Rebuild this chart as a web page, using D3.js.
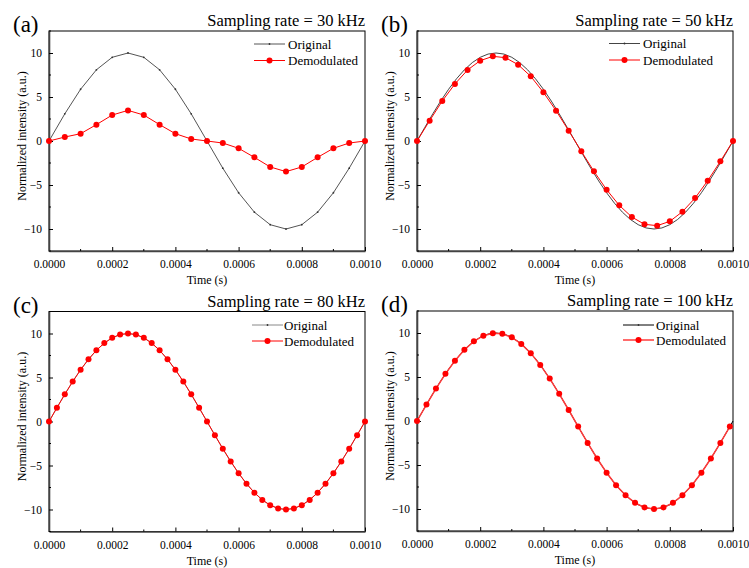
<!DOCTYPE html>
<html>
<head>
<meta charset="utf-8">
<script src="https://cdn.jsdelivr.net/npm/d3@7"></script>
<style>
  body { margin: 0; background: #fff; }
  svg { display: block; font-family: "Liberation Serif", "Times New Roman", serif; }
</style>
</head>
<body>
<div id="chart"></div>
<script>
// Values

// sample spacing (s) of each series
const stepOrigA = 0.00005;
const stepFine = 0.000025;
const stepB = 0.00004;
const stepC = 0.000025;
const stepD = 0.00003;

// (a) 30 kHz
const origA = [0, 3.09, 5.88, 8.09, 9.51, 10, 9.51, 8.09, 5.88, 3.09, 0,
  -3.09, -5.88, -8.09, -9.51, -10, -9.51, -8.09, -5.88, -3.09, 0];
const demodA = [0, 0.45, 0.83, 1.86, 2.95, 3.48, 2.95, 1.86, 0.83, 0.23, 0,
  -0.23, -0.83, -1.86, -2.95, -3.48, -2.95, -1.86, -0.83, -0.23, 0];

// original signal drawn in (b), (c), (d)
const origFine = [0, 1.56, 3.09, 4.54, 5.88, 7.07, 8.09, 8.91, 9.51, 9.88, 10,
  9.88, 9.51, 8.91, 8.09, 7.07, 5.88, 4.54, 3.09, 1.56, 0,
  -1.56, -3.09, -4.54, -5.88, -7.07, -8.09, -8.91, -9.51, -9.88, -10,
  -9.88, -9.51, -8.91, -8.09, -7.07, -5.88, -4.54, -3.09, -1.56, 0];

// (b) 50 kHz
const demodB = [0, 2.31, 4.55, 6.48, 8.07, 9.13, 9.62, 9.47, 8.67, 7.35, 5.53,
  3.45, 1.17, -1.17, -3.45, -5.53, -7.31, -8.64, -9.47, -9.62, -9.13,
  -8.03, -6.48, -4.51, -2.31, 0];

// (c) 80 kHz
const demodC = [0, 1.56, 3.09, 4.54, 5.88, 7.07, 8.09, 8.91, 9.51, 9.88, 10,
  9.88, 9.51, 8.91, 8.09, 7.07, 5.88, 4.54, 3.09, 1.56, 0,
  -1.56, -3.09, -4.54, -5.88, -7.07, -8.09, -8.91, -9.51, -9.88, -10,
  -9.88, -9.51, -8.91, -8.09, -7.07, -5.88, -4.54, -3.09, -1.56, 0];

// (d) 100 kHz
const demodD = [0, 1.87, 3.68, 5.36, 6.85, 8.09, 9.05, 9.69, 9.98, 9.92, 9.51,
  8.76, 7.71, 6.37, 4.82, 3.09, 1.25, -0.63, -2.49, -4.26, -5.88,
  -7.29, -8.44, -9.30, -9.82, -10, -9.82, -9.30, -8.44, -7.29, -5.88,
  -4.26, -2.49, -0.63];

const panelLabels = ['(a)', '(b)', '(c)', '(d)'];
const panelTitles = ['Sampling rate = 30 kHz', 'Sampling rate = 50 kHz',
  'Sampling rate = 80 kHz', 'Sampling rate = 100 kHz'];
const legendNames = ['Original', 'Demodulated'];
const xTicks = [0, 0.0002, 0.0004, 0.0006, 0.0008, 0.001];
const xMinor = [0.0001, 0.0003, 0.0005, 0.0007, 0.0009];
const yTicks = [-10, -5, 0, 5, 10];
const yMinor = [-12.5, -7.5, -2.5, 2.5, 7.5, 12.5];
const xDomain = [0, 0.001], yDomain = [-12.5, 12.5];

// Pair values with their times
const series = (vals, step) => vals.map((v, i) => [i * step, v]);

const panels = [
  {orig: series(origA, stepOrigA), demod: series(demodA, stepOrigA),
   ox: 0, oy: 0, origColor: '#555', origDots: true, red: '#ff0000', redW: 1,
   legLine: 111, legText: 77, legY: [13, 29.5]},
  {orig: series(origFine, stepFine), demod: series(demodB, stepB),
   ox: 368, oy: 0, origColor: '#444', origDots: false, red: '#ff0000', redW: 1,
   legLine: 124, legText: 90, legY: [12.5, 29]},
  {orig: series(origFine, stepFine), demod: series(demodC, stepC),
   ox: 0, oy: 280.5, origColor: '#888', origDots: false, red: '#ff0000', redW: 1,
   legLine: 113, legText: 81, legY: [13.5, 29.5]},
  {orig: series(origFine, stepFine), demod: series(demodD, stepD),
   ox: 368, oy: 280, origColor: '#000', origDots: false, red: '#ff3b3b', redW: 1.5,
   legLine: 110, legText: 77, legY: [14, 29]}
];

const W = 749, H = 568;
const plotLeft = 49, plotTop = 31, plotW = 316, plotH = 220;

const svg = d3.select('#chart').append('svg')
  .attr('width', W).attr('height', H);

const x = d3.scaleLinear().domain(xDomain).range([0, plotW]);
const y = d3.scaleLinear().domain(yDomain).range([plotH, 0]);
const line = d3.line().x(d => x(d[0])).y(d => y(d[1]));

panels.forEach((p, k) => {
  const g = svg.append('g')
    .attr('transform', `translate(${p.ox + plotLeft},${p.oy + plotTop})`);

  // frame
  g.append('rect')
    .attr('width', plotW).attr('height', plotH)
    .attr('fill', 'none').attr('stroke', '#000').attr('stroke-width', 1);

  // x axis, ticks pointing inward
  const gx = g.append('g').attr('transform', `translate(0,${plotH})`);
  gx.call(d3.axisBottom(x).tickValues(xTicks).tickSizeInner(-4).tickSizeOuter(0)
    .tickPadding(9).tickFormat(d => d.toFixed(4)));
  gx.append('g').selectAll('line').data(xMinor).join('line')
    .attr('x1', d => x(d)).attr('x2', d => x(d)).attr('y1', 0).attr('y2', -2)
    .attr('stroke', '#000');

  // y axis
  const gy = g.append('g');
  gy.call(d3.axisLeft(y).tickValues(yTicks).tickSizeInner(-4).tickSizeOuter(0)
    .tickPadding(7));
  gy.append('g').selectAll('line').data(yMinor).join('line')
    .attr('y1', d => y(d)).attr('y2', d => y(d)).attr('x1', 0).attr('x2', 2)
    .attr('stroke', '#000');

  g.selectAll('.domain').attr('stroke', '#444').attr('stroke-width', 1.6);
  g.selectAll('.tick text')
    .attr('font-family', '"Liberation Serif", serif')
    .attr('font-size', 11.5).attr('fill', '#000');

  // axis titles
  g.append('text')
    .attr('x', plotW / 2).attr('y', plotH + 33)
    .attr('text-anchor', 'middle').attr('font-size', 12)
    .text('Time (s)');
  g.append('text')
    .attr('transform', `translate(-23,${plotH / 2 - 5}) rotate(-90)`)
    .attr('text-anchor', 'middle').attr('font-size', 12)
    .text('Normalized intensity (a.u.)');

  // panel letter and title
  g.append('text')
    .attr('x', -36).attr('y', 1)
    .attr('font-size', 23)
    .text(panelLabels[k]);
  g.append('text')
    .attr('x', plotW).attr('y', -5)
    .attr('text-anchor', 'end').attr('font-size', 16.5)
    .text(panelTitles[k]);

  // original
  g.append('path').datum(p.orig)
    .attr('d', line).attr('fill', 'none')
    .attr('stroke', p.origColor).attr('stroke-width', 1);
  if (p.origDots) {
    g.append('g').selectAll('circle').data(p.orig).join('circle')
      .attr('cx', d => x(d[0])).attr('cy', d => y(d[1])).attr('r', 0.9)
      .attr('fill', '#333');
  }

  // demodulated
  g.append('path').datum(p.demod)
    .attr('d', line).attr('fill', 'none')
    .attr('stroke', p.red).attr('stroke-width', p.redW);
  g.append('g').selectAll('circle').data(p.demod).join('circle')
    .attr('cx', d => x(d[0])).attr('cy', d => y(d[1])).attr('r', 3)
    .attr('fill', '#ff0000');

  // legend
  const leg = g.append('g');
  const lx0 = plotW - p.legLine, lx1 = lx0 + 31;
  leg.append('line')
    .attr('x1', lx0).attr('x2', lx1).attr('y1', p.legY[0]).attr('y2', p.legY[0])
    .attr('stroke', p.origColor).attr('stroke-width', 1);
  leg.append('circle')
    .attr('cx', (lx0 + lx1) / 2).attr('cy', p.legY[0]).attr('r', 0.9).attr('fill', '#333');
  leg.append('line')
    .attr('x1', lx0).attr('x2', lx1).attr('y1', p.legY[1]).attr('y2', p.legY[1])
    .attr('stroke', p.red).attr('stroke-width', p.redW);
  leg.append('circle')
    .attr('cx', (lx0 + lx1) / 2).attr('cy', p.legY[1]).attr('r', 3).attr('fill', '#ff0000');
  leg.selectAll('text').data(legendNames).join('text')
    .attr('x', plotW - p.legText).attr('y', (d, i) => p.legY[i] + 4.5)
    .attr('font-size', 13)
    .text(d => d);
});
</script>
</body>
</html>
